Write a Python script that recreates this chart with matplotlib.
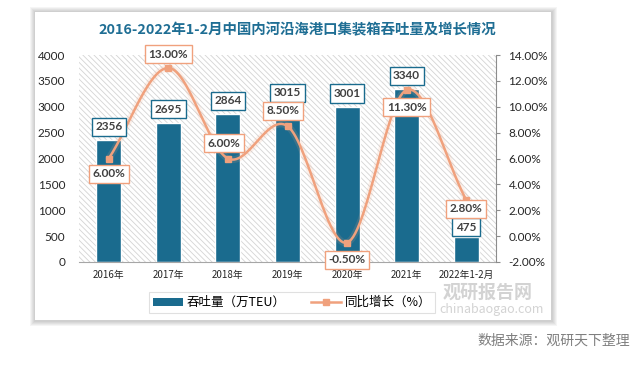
import numpy as np
import matplotlib
matplotlib.use("Agg")
import matplotlib.pyplot as plt
from matplotlib.patches import Rectangle, Patch
from matplotlib.lines import Line2D

plt.rcParams['font.family'] = ['Noto Sans CJK SC', 'DejaVu Sans']
plt.rcParams['hatch.color'] = '#d4d4d4'
plt.rcParams['hatch.linewidth'] = 0.6

categories = ['2016年', '2017年', '2018年', '2019年', '2020年', '2021年', '2022年1-2月']
throughput = [2356, 2695, 2864, 3015, 3001, 3340, 475]
growth = [6.00, 13.00, 6.00, 8.50, -0.50, 11.30, 2.80]
left_ticks = [0, 500, 1000, 1500, 2000, 2500, 3000, 3500, 4000]
right_ticks = [-2, 0, 2, 4, 6, 8, 10, 12, 14]

BAR = '#1a6b8e'
LINE = '#f0a17d'
NUMFONT = ['Lato', 'DejaVu Sans']

fig = plt.figure(figsize=(6.43, 3.67), dpi=100)
fig.patch.set_facecolor('white')
W, H = 643, 367

# card with soft shadow
for k in range(5):
    pad = 5 - k
    fig.patches.append(Rectangle(((35 - pad) / W, 1 - (321 + pad) / H), (517 + 2 * pad) / W, (309 + 2 * pad) / H,
                                 transform=fig.transFigure, facecolor='#000000', alpha=0.04,
                                 edgecolor='none', zorder=0))
fig.patches.append(Rectangle((35 / W, 1 - 320 / H), 516 / W, 308 / H, transform=fig.transFigure,
                             facecolor='white', edgecolor='none', zorder=0.5))

ax = fig.add_axes([79 / W, 1 - 262 / H, (496 - 79) / W, (262 - 55) / H])
ax.set_zorder(1)
ax.patch.set_facecolor('white')
ax.patch.set_hatch('\\\\\\\\\\\\')
ax.patch.set_edgecolor('#d4d4d4')
ax.patch.set_linewidth(0)

x = np.arange(len(categories))
ax.bar(x, throughput, width=0.42, color=BAR, edgecolor='white', linewidth=1.0, zorder=2)
ax.set_xlim(-0.5, len(categories) - 0.5)
ax.set_ylim(0, 4000)
ax.set_yticks(left_ticks)
ax.set_yticklabels([str(t) for t in left_ticks], fontsize=8.5, color='#262626', family=NUMFONT)
ax.set_xticks(x)
ax.set_xticklabels(categories, fontsize=7, color='#262626')
ax.tick_params(axis='both', length=0, pad=6)
ax.tick_params(axis='y', pad=10)
for s in ['top', 'left', 'right']:
    ax.spines[s].set_visible(False)
ax.spines['bottom'].set_color('#a6a6a6')
ax.spines['bottom'].set_linewidth(0.8)

ax2 = ax.twinx()
ax2.set_zorder(2)
ax2.patch.set_visible(False)
ax2.set_ylim(-2, 14)
ax2.set_yticks(right_ticks)
ax2.set_yticklabels([f'{t:.2f}%' for t in right_ticks], fontsize=8.5, color='#262626', family=NUMFONT)
ax2.tick_params(axis='y', length=3, color='#8c8c8c', pad=6)
for s in ['top', 'left', 'bottom']:
    ax2.spines[s].set_visible(False)
ax2.spines['right'].set_color('#8c8c8c')
ax2.spines['right'].set_linewidth(0.8)

# smooth curve (Catmull-Rom) through the points
px = x.astype(float)
py = np.array(growth, dtype=float)
P = np.column_stack([px, py])
P_ext = np.vstack([P[0] * 2 - P[1], P, P[-1] * 2 - P[-2]])
cx, cy = [], []
t = np.linspace(0, 1, 30)
for i in range(1, len(P_ext) - 2):
    p0, p1, p2, p3 = P_ext[i - 1], P_ext[i], P_ext[i + 1], P_ext[i + 2]
    tt = t[:, None]
    seg = 0.5 * ((2 * p1) + (-p0 + p2) * tt + (2 * p0 - 5 * p1 + 4 * p2 - p3) * tt ** 2 +
                 (-p0 + 3 * p1 - 3 * p2 + p3) * tt ** 3)
    cx.extend(seg[:, 0]); cy.extend(seg[:, 1])
ax2.plot(cx, cy, color=LINE, linewidth=5, alpha=0.15, zorder=3, solid_capstyle='round')
ax2.plot(cx, cy, color=LINE, linewidth=1.8, zorder=4)
ax2.plot(px, py, linestyle='none', marker='s', markersize=5, color=LINE, zorder=5)

# bar value labels
bar_off = [9.5, 9.5, 9.5, 9.5, 9.5, 9.5, 7.5]
for i, v in enumerate(throughput):
    ax2.annotate(str(v), xy=(i, v), xycoords=ax.transData, xytext=(0, bar_off[i]), textcoords='offset points',
                 ha='center', va='center', fontsize=8.5, fontweight='bold', color='#404040', zorder=10,
                 family=NUMFONT,
                 bbox=dict(boxstyle='square,pad=0.3', facecolor='white', edgecolor=BAR, linewidth=1.0))

# growth labels (offsets in points)
offsets = [(0, -11), (0, 10), (-3, 11), (-3, 11), (0, -12.5), (0, -12.5), (0, -6.5)]
for i, (v, off) in enumerate(zip(growth, offsets)):
    ax2.annotate(f'{v:.2f}%', xy=(i, v), xytext=off, textcoords='offset points',
                 ha='center', va='center', fontsize=8.5, fontweight='bold', color='#404040', zorder=11,
                 family=NUMFONT,
                 bbox=dict(boxstyle='square,pad=0.3', facecolor='white', edgecolor=LINE, linewidth=1.0))

# title
fig.text(297 / W, 1 - 30 / H, '2016-2022年1-2月中国内河沿海港口集装箱吞吐量及增长情况',
         ha='center', va='center', fontsize=10.4, fontweight='bold', color='#1f6e94')

# watermark
fig.text(488 / W, 1 - 292 / H, '观研报告网', ha='center', va='center', fontsize=13, fontweight='bold',
         color='#c8c8c8', alpha=0.8, zorder=20)
fig.text(492 / W, 1 - 310 / H, 'chinabaogao.com', ha='center', va='center', fontsize=9,
         color='#c8c8c8', alpha=0.8, zorder=20)

# legend
handles = [Patch(facecolor=BAR, edgecolor='none'),
           Line2D([0], [0], color=LINE, linewidth=1.8, marker='s', markersize=5)]
leg = fig.legend(handles, ['吞吐量（万TEU）', '同比增长（%）'], loc='center',
                 bbox_to_anchor=(292 / W, 1 - 302.5 / H), ncol=2, fontsize=9, frameon=True,
                 fancybox=False, edgecolor='#d9d9d9', handlelength=2.4, handleheight=0.6,
                 handletextpad=0.3, columnspacing=2.0, borderpad=0.3, borderaxespad=0)
leg.get_frame().set_linewidth(0.8)
leg.set_zorder(30)

# source
fig.text(630 / W, 1 - 341 / H, '数据来源：观研天下整理', ha='right', va='center', fontsize=10, color='#7f7f7f')

fig.savefig('out.png', dpi=100, facecolor='white')
